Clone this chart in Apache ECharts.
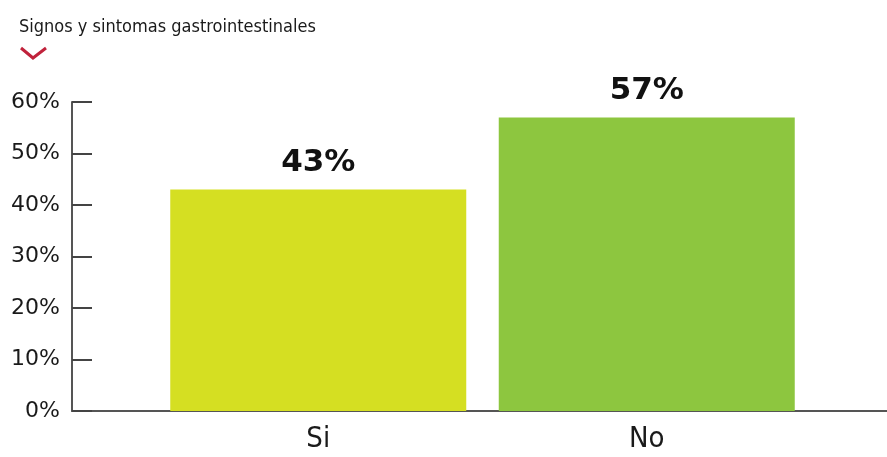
<!DOCTYPE html>
<html>
<head>
<meta charset="utf-8">
<script src="https://cdn.jsdelivr.net/npm/echarts@6/dist/echarts.min.js"></script>
<style>
  html, body { margin: 0; padding: 0; background: #fff; }
  #chart { width: 887px; height: 457px; }
</style>
</head>
<body>
<div id="chart"></div>
<script>
// Gastrointestinal signs and symptoms: share of answers
const titleText = 'Signos y sintomas gastrointestinales';
const categories = ['Si', 'No'];
const values = [43, 57];
const barColors = ['#d5df22', '#8dc63f'];
const yTicks = [0, 10, 20, 30, 40, 50, 60];

const chart = echarts.init(document.getElementById('chart'), null, { renderer: 'canvas' });

const axisColor = '#555';
const textColor = '#1a1a1a';
const narrowFont = '"DejaVu Sans Condensed"';

chart.setOption({
  animation: false,
  backgroundColor: '#fff',
  title: {
    text: titleText,
    left: 14,
    top: 13,
    textStyle: {
      fontFamily: narrowFont,
      fontSize: 18,
      fontWeight: 'normal',
      color: textColor
    }
  },
  graphic: [{
    type: 'polyline',
    shape: { points: [[21, 48], [33, 58], [46, 48]] },
    style: { stroke: '#c0223b', lineWidth: 3, fill: null }
  }],
  grid: [
    // frame grid: y axis and baseline across the full width
    { left: 72, right: 0, top: 102, bottom: 46 },
    // bar grid: positions the two categories
    { left: 154, right: 76, top: 102, bottom: 46 }
  ],
  xAxis: [
    {
      gridIndex: 0,
      type: 'category',
      data: [''],
      axisLine: { show: true, lineStyle: { color: axisColor, width: 2 } },
      axisTick: { show: false },
      axisLabel: { show: false }
    },
    {
      gridIndex: 1,
      type: 'category',
      data: categories,
      axisLine: { show: false },
      axisTick: { show: false },
      axisLabel: {
        margin: 14,
        fontFamily: narrowFont,
        fontSize: 29,
        color: textColor
      }
    }
  ],
  yAxis: [
    {
      gridIndex: 0,
      type: 'value',
      min: yTicks[0],
      max: yTicks[yTicks.length - 1],
      interval: 10,
      axisLine: { show: true, lineStyle: { color: axisColor, width: 2 } },
      axisTick: { show: true, inside: true, length: 20, lineStyle: { color: '#444', width: 2 } },
      splitLine: { show: false },
      axisLabel: {
        margin: 12,
        fontFamily: 'DejaVu Sans',
        fontSize: 22,
        color: textColor,
        formatter: v => v + '%'
      }
    },
    {
      gridIndex: 1,
      type: 'value',
      min: yTicks[0],
      max: yTicks[yTicks.length - 1],
      interval: 10,
      show: false
    }
  ],
  series: [{
    type: 'bar',
    xAxisIndex: 1,
    yAxisIndex: 1,
    barWidth: 296,
    data: values.map((v, i) => ({ value: v, itemStyle: { color: barColors[i] } })),
    label: {
      show: true,
      position: 'top',
      distance: 11,
      formatter: p => p.value + '%',
      fontFamily: 'DejaVu Sans',
      fontWeight: 'bold',
      fontSize: 31,
      color: '#111'
    }
  }]
});
</script>
</body>
</html>
